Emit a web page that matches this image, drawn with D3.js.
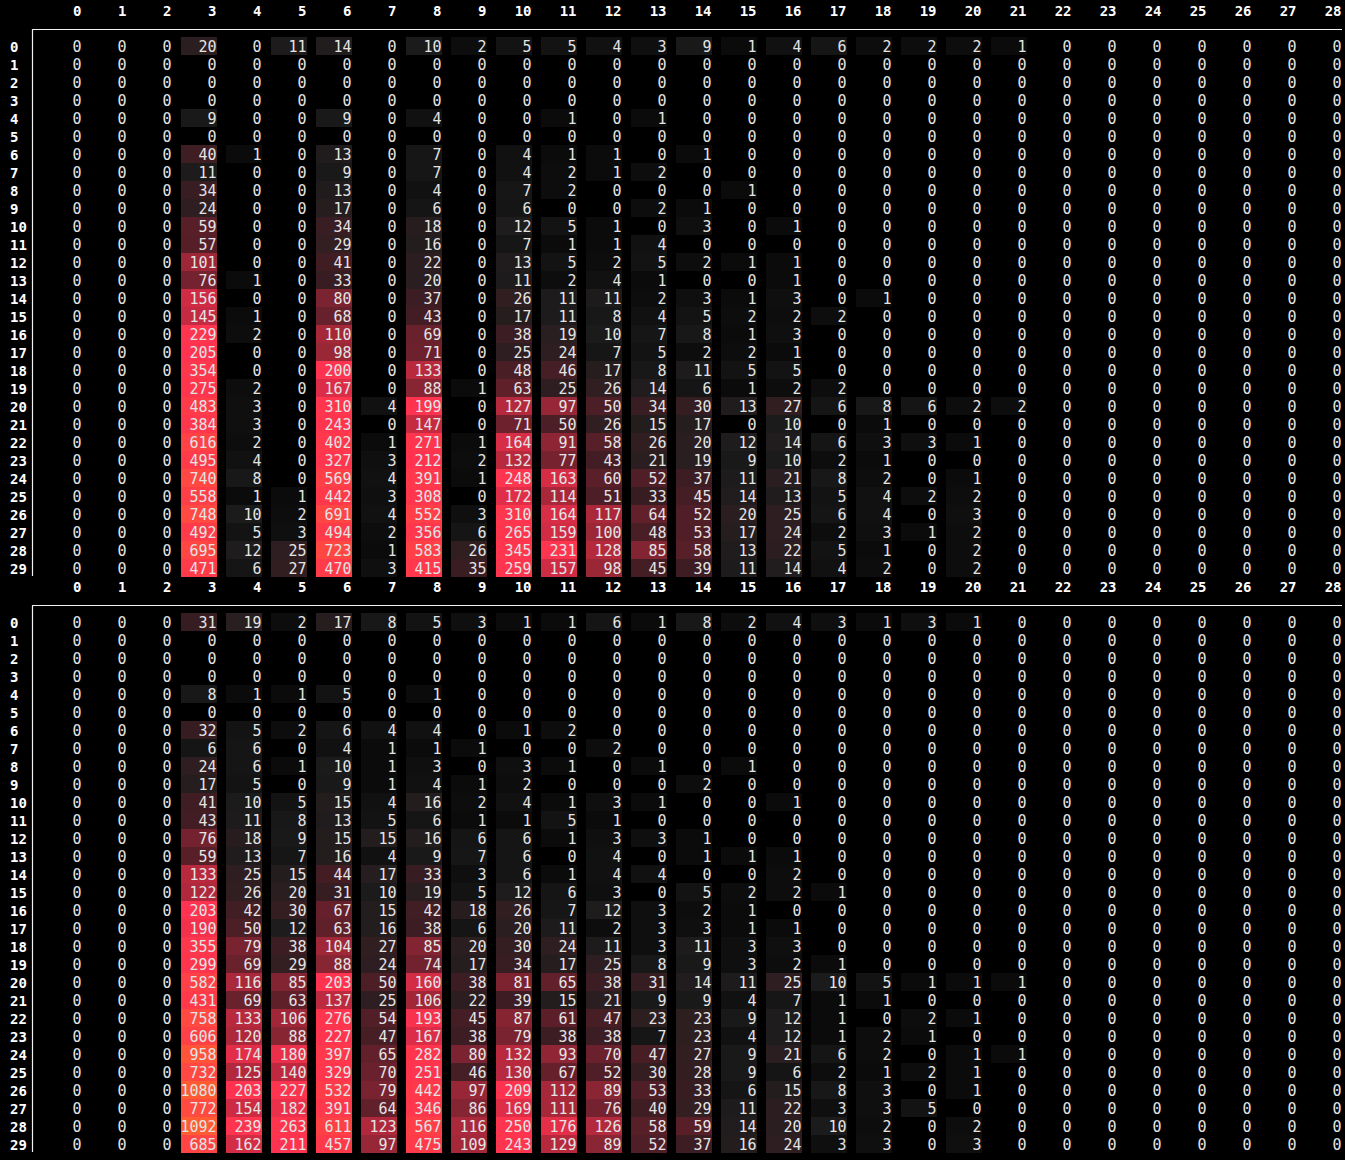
<!DOCTYPE html>
<html>
<head>
<meta charset="utf-8">
<script src="https://cdn.jsdelivr.net/npm/d3@7"></script>
<style>
  html, body { margin: 0; padding: 0; background: #000; }
  svg { display: block; }
</style>
</head>
<body>
<svg id="chart" width="1345" height="1160"></svg>
<script>
const columnLabels = ["0","1","2","3","4","5","6","7","8","9","10","11","12","13","14","15","16","17","18","19","20","21","22","23","24","25","26","27","28"];
const rowLabels = ["0","1","2","3","4","5","6","7","8","9","10","11","12","13","14","15","16","17","18","19","20","21","22","23","24","25","26","27","28","29"];

const topCounts = [
  [0,0,0,20,0,11,14,0,10,2,5,5,4,3,9,1,4,6,2,2,2,1,0,0,0,0,0,0,0],
  [0,0,0,0,0,0,0,0,0,0,0,0,0,0,0,0,0,0,0,0,0,0,0,0,0,0,0,0,0],
  [0,0,0,0,0,0,0,0,0,0,0,0,0,0,0,0,0,0,0,0,0,0,0,0,0,0,0,0,0],
  [0,0,0,0,0,0,0,0,0,0,0,0,0,0,0,0,0,0,0,0,0,0,0,0,0,0,0,0,0],
  [0,0,0,9,0,0,9,0,4,0,0,1,0,1,0,0,0,0,0,0,0,0,0,0,0,0,0,0,0],
  [0,0,0,0,0,0,0,0,0,0,0,0,0,0,0,0,0,0,0,0,0,0,0,0,0,0,0,0,0],
  [0,0,0,40,1,0,13,0,7,0,4,1,1,0,1,0,0,0,0,0,0,0,0,0,0,0,0,0,0],
  [0,0,0,11,0,0,9,0,7,0,4,2,1,2,0,0,0,0,0,0,0,0,0,0,0,0,0,0,0],
  [0,0,0,34,0,0,13,0,4,0,7,2,0,0,0,1,0,0,0,0,0,0,0,0,0,0,0,0,0],
  [0,0,0,24,0,0,17,0,6,0,6,0,0,2,1,0,0,0,0,0,0,0,0,0,0,0,0,0,0],
  [0,0,0,59,0,0,34,0,18,0,12,5,1,0,3,0,1,0,0,0,0,0,0,0,0,0,0,0,0],
  [0,0,0,57,0,0,29,0,16,0,7,1,1,4,0,0,0,0,0,0,0,0,0,0,0,0,0,0,0],
  [0,0,0,101,0,0,41,0,22,0,13,5,2,5,2,1,1,0,0,0,0,0,0,0,0,0,0,0,0],
  [0,0,0,76,1,0,33,0,20,0,11,2,4,1,0,0,1,0,0,0,0,0,0,0,0,0,0,0,0],
  [0,0,0,156,0,0,80,0,37,0,26,11,11,2,3,1,3,0,1,0,0,0,0,0,0,0,0,0,0],
  [0,0,0,145,1,0,68,0,43,0,17,11,8,4,5,2,2,2,0,0,0,0,0,0,0,0,0,0,0],
  [0,0,0,229,2,0,110,0,69,0,38,19,10,7,8,1,3,0,0,0,0,0,0,0,0,0,0,0,0],
  [0,0,0,205,0,0,98,0,71,0,25,24,7,5,2,2,1,0,0,0,0,0,0,0,0,0,0,0,0],
  [0,0,0,354,0,0,200,0,133,0,48,46,17,8,11,5,5,0,0,0,0,0,0,0,0,0,0,0,0],
  [0,0,0,275,2,0,167,0,88,1,63,25,26,14,6,1,2,2,0,0,0,0,0,0,0,0,0,0,0],
  [0,0,0,483,3,0,310,4,199,0,127,97,50,34,30,13,27,6,8,6,2,2,0,0,0,0,0,0,0],
  [0,0,0,384,3,0,243,0,147,0,71,50,26,15,17,0,10,0,1,0,0,0,0,0,0,0,0,0,0],
  [0,0,0,616,2,0,402,1,271,1,164,91,58,26,20,12,14,6,3,3,1,0,0,0,0,0,0,0,0],
  [0,0,0,495,4,0,327,3,212,2,132,77,43,21,19,9,10,2,1,0,0,0,0,0,0,0,0,0,0],
  [0,0,0,740,8,0,569,4,391,1,248,163,60,52,37,11,21,8,2,0,1,0,0,0,0,0,0,0,0],
  [0,0,0,558,1,1,442,3,308,0,172,114,51,33,45,14,13,5,4,2,2,0,0,0,0,0,0,0,0],
  [0,0,0,748,10,2,691,4,552,3,310,164,117,64,52,20,25,6,4,0,3,0,0,0,0,0,0,0,0],
  [0,0,0,492,5,3,494,2,356,6,265,159,100,48,53,17,24,2,3,1,2,0,0,0,0,0,0,0,0],
  [0,0,0,695,12,25,723,1,583,26,345,231,128,85,58,13,22,5,1,0,2,0,0,0,0,0,0,0,0],
  [0,0,0,471,6,27,470,3,415,35,259,157,98,45,39,11,14,4,2,0,2,0,0,0,0,0,0,0,0]
];

const bottomCounts = [
  [0,0,0,31,19,2,17,8,5,3,1,1,6,1,8,2,4,3,1,3,1,0,0,0,0,0,0,0,0],
  [0,0,0,0,0,0,0,0,0,0,0,0,0,0,0,0,0,0,0,0,0,0,0,0,0,0,0,0,0],
  [0,0,0,0,0,0,0,0,0,0,0,0,0,0,0,0,0,0,0,0,0,0,0,0,0,0,0,0,0],
  [0,0,0,0,0,0,0,0,0,0,0,0,0,0,0,0,0,0,0,0,0,0,0,0,0,0,0,0,0],
  [0,0,0,8,1,1,5,0,1,0,0,0,0,0,0,0,0,0,0,0,0,0,0,0,0,0,0,0,0],
  [0,0,0,0,0,0,0,0,0,0,0,0,0,0,0,0,0,0,0,0,0,0,0,0,0,0,0,0,0],
  [0,0,0,32,5,2,6,4,4,0,1,2,0,0,0,0,0,0,0,0,0,0,0,0,0,0,0,0,0],
  [0,0,0,6,6,0,4,1,1,1,0,0,2,0,0,0,0,0,0,0,0,0,0,0,0,0,0,0,0],
  [0,0,0,24,6,1,10,1,3,0,3,1,0,1,0,1,0,0,0,0,0,0,0,0,0,0,0,0,0],
  [0,0,0,17,5,0,9,1,4,1,2,0,0,0,2,0,0,0,0,0,0,0,0,0,0,0,0,0,0],
  [0,0,0,41,10,5,15,4,16,2,4,1,3,1,0,0,1,0,0,0,0,0,0,0,0,0,0,0,0],
  [0,0,0,43,11,8,13,5,6,1,1,5,1,0,0,0,0,0,0,0,0,0,0,0,0,0,0,0,0],
  [0,0,0,76,18,9,15,15,16,6,6,1,3,3,1,0,0,0,0,0,0,0,0,0,0,0,0,0,0],
  [0,0,0,59,13,7,16,4,9,7,6,0,4,0,1,1,1,0,0,0,0,0,0,0,0,0,0,0,0],
  [0,0,0,133,25,15,44,17,33,3,6,1,4,4,0,0,2,0,0,0,0,0,0,0,0,0,0,0,0],
  [0,0,0,122,26,20,31,10,19,5,12,6,3,0,5,2,2,1,0,0,0,0,0,0,0,0,0,0,0],
  [0,0,0,203,42,30,67,15,42,18,26,7,12,3,2,1,0,0,0,0,0,0,0,0,0,0,0,0,0],
  [0,0,0,190,50,12,63,16,38,6,20,11,2,3,3,1,1,0,0,0,0,0,0,0,0,0,0,0,0],
  [0,0,0,355,79,38,104,27,85,20,30,24,11,3,11,3,3,0,0,0,0,0,0,0,0,0,0,0,0],
  [0,0,0,299,69,29,88,24,74,17,34,17,25,8,9,3,2,1,0,0,0,0,0,0,0,0,0,0,0],
  [0,0,0,582,116,85,203,50,160,38,81,65,38,31,14,11,25,10,5,1,1,1,0,0,0,0,0,0,0],
  [0,0,0,431,69,63,137,25,106,22,39,15,21,9,9,4,7,1,1,0,0,0,0,0,0,0,0,0,0],
  [0,0,0,758,133,106,276,54,193,45,87,61,47,23,23,9,12,1,0,2,1,0,0,0,0,0,0,0,0],
  [0,0,0,606,120,88,227,47,167,38,79,38,38,7,23,4,12,1,2,1,0,0,0,0,0,0,0,0,0],
  [0,0,0,958,174,180,397,65,282,80,132,93,70,47,27,9,21,6,2,0,1,1,0,0,0,0,0,0,0],
  [0,0,0,732,125,140,329,70,251,46,130,67,52,30,28,9,6,2,1,2,1,0,0,0,0,0,0,0,0],
  [0,0,0,1080,203,227,532,79,442,97,209,112,89,53,33,6,15,8,3,0,1,0,0,0,0,0,0,0,0],
  [0,0,0,772,154,182,391,64,346,86,169,111,76,40,29,11,22,3,3,5,0,0,0,0,0,0,0,0,0],
  [0,0,0,1092,239,263,611,123,567,116,250,176,126,58,59,14,20,10,2,0,2,0,0,0,0,0,0,0,0],
  [0,0,0,685,162,211,457,97,475,109,243,129,89,52,37,16,24,3,3,0,3,0,0,0,0,0,0,0,0]
];

const panels = [
  { counts: topCounts, offset: 0 },
  { counts: bottomCounts, offset: 576 }
];

const svg = d3.select("#chart");
const FONT = "'DejaVu Sans Mono', 'Liberation Mono', monospace";

const x = d3.scaleBand()
  .domain(columnLabels)
  .range([46, 1342])
  .paddingInner(0.2)
  .paddingOuter(0);

const y = d3.scaleBand()
  .domain(rowLabels)
  .range([37, 577])
  .padding(0);

const color = d3.scaleLinear()
  .domain([1, 5, 10, 20, 40, 60, 100, 150, 200, 450, 700, 1100])
  .range(["#0b0b0b","#131313","#1b1b1b","#2a1e20","#3e1d23","#5a1f29","#9c2737","#c82a42","#ff3350","#ff394a","#ff4643","#ff5c32"])
  .clamp(true);

panels.forEach(p => {
  const g = svg.append("g").attr("transform", `translate(0,${p.offset})`);

  // column header
  const header = g.append("g")
    .attr("transform", "translate(0,29)")
    .call(d3.axisTop(x).tickSize(0).tickPadding(13));
  header.select(".domain").remove();
  header.selectAll("text")
    .attr("text-anchor", "end")
    .attr("x", x.bandwidth() / 2 - 0.5)
    .attr("fill", "#ffffff")
    .style("font-family", FONT)
    .style("font-size", "14px")
    .style("font-weight", "bold");

  // frame lines
  g.append("line")
    .attr("x1", 33).attr("x2", 1342)
    .attr("y1", 29.5).attr("y2", 29.5)
    .attr("stroke", "#f0f0f0").attr("stroke-width", 1.2);
  g.append("line")
    .attr("x1", 32.5).attr("x2", 32.5)
    .attr("y1", 29).attr("y2", y.range()[1] - 1)
    .attr("stroke", "#f0f0f0").attr("stroke-width", 1.2);

  // row labels
  g.append("g").selectAll("text")
    .data(rowLabels)
    .join("text")
    .attr("x", 10)
    .attr("y", d => y(d) + 15)
    .attr("fill", "#ffffff")
    .style("font-family", FONT)
    .style("font-size", "14px")
    .style("font-weight", "bold")
    .text(d => d);

  const cells = [];
  p.counts.forEach((row, r) => row.forEach((v, c) => cells.push({ r: rowLabels[r], c: columnLabels[c], v })));

  g.append("g").selectAll("rect")
    .data(cells.filter(d => d.v > 0))
    .join("rect")
    .attr("x", d => x(d.c))
    .attr("y", d => y(d.r))
    .attr("width", x.bandwidth())
    .attr("height", y.bandwidth())
    .attr("fill", d => color(d.v));

  g.append("g").selectAll("text")
    .data(cells)
    .join("text")
    .attr("x", d => x(d.c) + x.bandwidth() - 0.5)
    .attr("y", d => y(d.r) + 15)
    .attr("text-anchor", "end")
    .attr("fill", "#e4e4e4")
    .style("font-family", FONT)
    .style("font-size", "15px")
    .text(d => d.v);
});
</script>
</body>
</html>
